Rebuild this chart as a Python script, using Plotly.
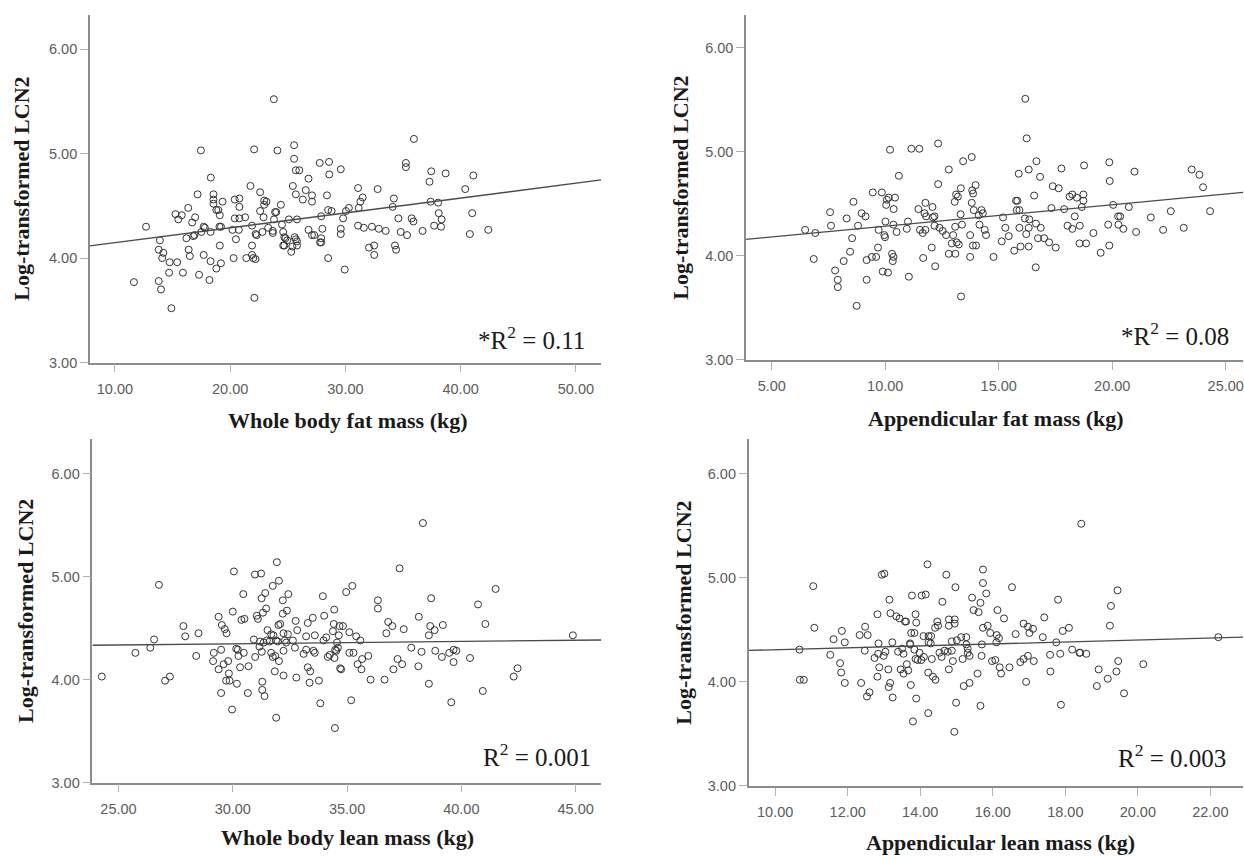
import plotly.graph_objects as go

# ---------------- data ----------------
# Panel 1: Whole body fat mass (kg) vs log-transformed LCN2
wb_fat_x = [23.79,17.46,22.08,24.10,25.55,25.55,27.77,28.58,25.70,26.00,28.60,18.32,26.80,21.76,25.44,26.56,17.17,22.60,18.55,18.55,
            18.55,19.34,20.40,20.80,25.70,26.30,27.10,27.10,22.95,23.15,22.95,24.40,28.40,16.36,15.26,15.80,15.50,16.96,16.70,18.80,
            18.97,19.10,20.80,22.60,23.90,24.00,22.90,25.10,25.80,27.90,20.40,20.80,21.30,19.07,19.20,17.70,17.80,20.20,20.75,21.90,
            23.30,23.80,23.70,23.70,16.90,16.80,17.50,18.30,16.20,22.30,22.20,20.50,19.10,21.90,22.80,24.60,24.70,24.80,24.95,25.60,
            25.70,25.80,24.60,24.70,25.40,25.30,25.80,26.80,27.10,27.30,27.80,27.90,28.00,27.90,28.50,13.90,13.80,14.20,14.10,14.75,
            15.40,14.70,15.90,17.30,17.70,18.20,18.30,18.80,19.20,16.40,16.50,20.30,21.40,21.90,22.00,22.20,22.10,11.65,13.80,14.00,
            14.90,12.70,24.50,35.95,35.25,35.25,29.60,37.45,37.30,38.70,41.10,40.40,31.10,32.80,31.50,31.30,31.15,34.20,34.10,37.40,
            38.05,38.10,41.00,28.80,28.50,30.30,30.05,29.80,34.60,35.75,35.90,38.35,29.60,29.60,31.10,31.60,32.30,32.90,33.50,34.80,
            35.35,36.70,37.70,38.30,40.80,42.40,32.05,32.50,32.50,34.30,34.40,29.94]
wb_fat_y = [5.52,5.03,5.04,5.03,5.08,4.95,4.91,4.92,4.84,4.84,4.80,4.77,4.76,4.69,4.69,4.65,4.61,4.63,4.61,4.56,
            4.52,4.54,4.56,4.57,4.61,4.56,4.60,4.54,4.55,4.54,4.51,4.51,4.60,4.48,4.42,4.41,4.37,4.39,4.34,4.46,
            4.46,4.41,4.49,4.45,4.44,4.44,4.39,4.37,4.37,4.40,4.38,4.38,4.39,4.30,4.30,4.30,4.29,4.27,4.27,4.31,
            4.29,4.37,4.26,4.24,4.22,4.21,4.25,4.25,4.19,4.22,4.23,4.18,4.12,4.12,4.25,4.25,4.20,4.19,4.17,4.20,
            4.18,4.16,4.12,4.12,4.11,4.06,4.12,4.27,4.22,4.22,4.15,4.15,4.28,4.19,4.00,4.17,4.08,4.05,4.00,3.96,
            3.96,3.86,3.86,3.84,4.03,3.79,3.97,3.90,3.95,4.08,4.02,4.00,4.00,4.03,4.00,3.99,3.62,3.77,3.78,3.70,
            3.52,4.30,4.32,5.14,4.91,4.87,4.85,4.83,4.73,4.81,4.79,4.66,4.67,4.66,4.58,4.54,4.48,4.57,4.49,4.54,
            4.53,4.43,4.43,4.45,4.46,4.48,4.45,4.38,4.38,4.38,4.35,4.37,4.28,4.23,4.31,4.29,4.30,4.28,4.26,4.25,
            4.22,4.26,4.31,4.30,4.23,4.27,4.10,4.12,4.03,4.12,4.08,3.89]

# Panel 2: Appendicular fat mass (kg)
ap_fat_x = [6.47,6.92,6.85,7.57,7.61,7.79,7.91,7.91,8.60,8.30,8.54,8.45,8.17,8.80,8.74,8.96,9.13,9.18,9.41,9.60,
            9.18,9.45,9.68,9.85,9.71,9.89,10.01,9.96,9.99,10.12,10.21,10.07,10.15,10.04,10.43,10.37,10.36,10.50,10.30,10.33,
            10.36,10.60,10.95,11.00,11.04,11.15,11.50,11.46,11.77,11.73,11.80,11.53,11.65,11.77,12.08,12.17,12.10,12.05,11.67,12.20,
            12.33,12.33,12.17,12.39,12.53,12.68,12.80,12.80,16.17,16.23,13.43,13.81,16.66,15.88,16.32,16.82,17.76,18.76,19.87,19.89,
            20.98,23.50,23.84,24.00,24.31,13.33,13.12,13.20,13.06,13.83,13.87,13.98,13.81,13.90,14.12,14.24,14.30,13.32,15.19,15.76,
            15.82,15.79,15.91,16.56,16.15,16.35,16.64,16.85,16.21,15.91,16.32,15.29,15.44,15.13,15.68,15.96,16.32,16.73,17.00,17.22,
            17.51,16.63,17.32,17.38,17.64,17.88,18.03,18.24,18.12,18.24,18.44,18.73,18.73,18.66,18.35,18.57,18.56,18.85,19.17,19.49,
            19.82,19.87,20.04,20.26,20.35,20.27,20.49,20.73,21.05,21.70,22.24,22.58,23.15,14.77,13.74,13.86,13.74,14.00,14.44,14.38,
            14.15,13.38,13.09,12.93,13.15,13.24,13.08,12.99,13.34]
ap_fat_y = [4.25,4.22,3.97,4.42,4.29,3.86,3.77,3.70,4.52,4.36,4.17,4.04,3.95,4.29,3.52,4.41,4.38,3.96,3.99,3.99,
            3.77,4.61,4.08,4.61,4.25,3.85,4.33,4.20,4.18,3.84,5.02,4.54,4.56,4.49,4.56,4.45,4.30,4.23,4.02,3.95,
            3.99,4.77,4.26,4.33,3.80,5.03,5.03,4.45,4.51,4.41,4.38,4.25,4.22,4.25,4.47,4.38,4.37,4.08,3.98,3.90,
            5.08,4.69,4.29,4.27,4.24,4.20,4.83,4.02,5.51,5.13,4.91,4.95,4.91,4.79,4.83,4.76,4.84,4.87,4.90,4.72,
            4.81,4.83,4.78,4.66,4.43,4.65,4.59,4.57,4.52,4.63,4.60,4.68,4.51,4.44,4.39,4.44,4.41,4.40,4.37,4.53,
            4.53,4.44,4.44,4.58,4.36,4.35,4.31,4.27,4.21,4.27,4.27,4.27,4.19,4.14,4.05,4.09,4.09,4.17,4.17,4.13,
            4.08,3.89,4.46,4.67,4.65,4.45,4.29,4.26,4.57,4.59,4.56,4.59,4.53,4.47,4.38,4.29,4.12,4.12,4.22,4.03,
            4.30,4.10,4.49,4.38,4.38,4.30,4.26,4.47,4.23,4.37,4.25,4.43,4.27,3.99,3.99,4.10,4.20,4.10,4.20,4.25,
            4.30,4.30,4.02,4.12,4.13,4.11,4.28,4.20,3.61]

# Panel 3: Whole body lean mass (kg)
wb_lean_x = [24.27,25.74,26.39,26.56,26.77,27.04,27.25,27.84,27.92,28.50,28.40,29.38,29.52,29.65,29.73,29.49,29.17,29.14,29.38,29.60,
             29.80,29.83,29.71,29.86,29.49,29.97,30.00,30.05,30.15,30.22,30.18,30.32,30.25,30.48,30.38,30.51,30.46,30.69,30.66,30.97,
             31.24,30.92,30.98,31.05,31.10,31.26,31.42,31.32,31.46,31.20,31.27,31.17,31.35,31.29,31.29,31.39,31.52,31.68,31.78,31.49,
             31.61,31.68,31.75,31.86,32.02,31.84,31.75,32.02,31.93,32.19,32.43,32.19,32.37,32.08,32.00,32.22,32.41,32.28,32.34,31.90,
             31.97,32.22,32.22,31.90,32.63,32.72,32.82,32.75,32.78,33.10,33.21,33.21,33.28,33.50,33.59,33.53,33.59,33.28,33.39,33.36,
             33.77,33.83,33.94,34.00,33.97,34.09,34.16,38.32,37.30,34.96,35.23,36.35,36.35,38.68,41.50,40.73,41.05,38.14,34.44,34.42,
             34.67,34.82,34.38,34.64,35.10,35.40,35.58,36.80,36.98,36.72,37.48,38.64,38.83,38.58,39.19,34.56,34.60,34.53,34.24,34.45,
             34.48,35.10,35.28,35.93,35.66,35.46,35.63,34.70,34.74,37.81,38.26,37.21,37.41,37.03,38.12,38.86,39.15,39.47,39.66,39.78,
             39.66,40.38,36.03,36.64,38.58,42.29,42.46,40.94,39.56,35.18,34.47,44.88]
wb_lean_y = [4.03,4.26,4.31,4.39,4.92,3.99,4.03,4.52,4.42,4.45,4.23,4.61,4.53,4.49,4.45,4.29,4.26,4.18,4.10,4.15,
             4.18,4.06,3.99,3.99,3.87,3.71,4.66,5.05,4.30,4.29,3.96,4.12,4.23,4.26,4.58,4.59,4.83,4.13,3.87,5.02,
             5.03,4.39,4.22,4.62,4.59,4.79,4.84,4.65,4.69,4.37,4.27,4.32,4.36,3.98,3.90,3.84,4.48,4.44,4.43,4.38,
             4.37,4.26,4.22,4.23,4.18,4.08,4.91,4.96,5.14,4.77,4.83,4.64,4.67,4.54,4.53,4.45,4.44,4.38,4.36,4.38,
             4.37,4.28,4.04,3.63,4.38,4.31,4.48,4.57,4.02,4.25,4.29,4.42,4.55,4.60,4.43,4.28,4.26,4.12,4.08,3.97,
             3.99,3.77,4.81,4.62,4.38,4.41,4.22,5.52,5.08,4.85,4.91,4.77,4.69,4.79,4.88,4.73,4.54,4.61,4.68,4.54,
             4.52,4.52,4.47,4.43,4.46,4.42,4.38,4.56,4.52,4.45,4.49,4.52,4.48,4.43,4.53,4.36,4.31,4.28,4.24,4.21,
             4.29,4.26,4.26,4.23,4.20,4.15,4.10,4.11,4.10,4.31,4.27,4.20,4.15,4.10,4.13,4.28,4.22,4.26,4.29,4.28,
             4.17,4.21,4.00,4.00,3.96,4.03,4.11,3.89,3.78,3.80,3.53,4.43]

# Panel 4: Appendicular lean mass (kg)
ap_lean_x = [10.67,10.68,10.79,11.05,11.08,11.52,11.61,11.84,11.92,11.79,11.82,11.92,12.33,12.48,12.55,12.47,12.37,12.60,12.53,12.74,
             12.84,12.85,12.82,12.82,12.87,12.94,13.01,12.99,13.04,13.15,13.18,13.23,13.12,13.13,13.17,13.24,13.34,13.43,13.39,13.50,
             13.58,13.61,13.54,13.46,13.54,13.63,13.67,13.72,13.72,13.77,13.75,13.84,13.87,13.89,13.74,13.87,13.93,13.89,13.80,13.84,
             13.98,14.03,14.10,14.04,14.15,14.09,14.20,14.23,14.30,14.23,14.29,14.22,14.32,14.22,14.35,14.42,14.41,14.47,14.49,14.53,
             14.59,14.61,14.72,14.67,14.76,14.79,14.79,14.79,18.44,15.73,15.73,15.82,14.97,16.53,15.43,15.47,15.61,15.66,16.13,16.31,
             17.42,17.80,19.26,19.44,19.23,14.95,14.95,15.73,15.86,15.93,16.11,16.17,16.10,16.63,16.85,16.97,17.11,17.01,17.38,17.93,
             18.10,17.75,14.87,15.01,15.13,15.27,15.27,15.31,15.31,15.36,15.70,15.69,15.98,16.07,16.19,16.23,16.46,16.76,16.85,16.97,
             17.13,16.92,17.58,17.86,17.59,18.19,18.39,18.41,18.58,18.92,18.87,19.17,19.46,19.41,19.62,20.15,17.88,15.66,14.99,14.94,
             15.36,15.20,15.58,14.90,15.17,14.87,22.22]
ap_lean_y = [4.31,4.02,4.02,4.92,4.52,4.26,4.41,4.49,4.38,4.18,4.09,3.99,4.45,4.53,4.45,4.30,3.99,3.90,3.86,4.23,
             4.27,4.37,4.65,4.05,4.14,5.03,5.04,4.25,4.29,4.79,4.66,4.38,4.12,3.95,3.99,3.85,4.63,4.61,4.29,4.32,
             4.58,4.58,4.27,4.12,4.08,4.17,4.11,4.37,4.36,4.83,4.47,4.47,4.65,4.57,3.97,4.22,4.21,3.84,3.62,4.31,
             4.28,4.21,4.24,4.83,4.84,4.44,5.13,4.44,4.44,4.38,4.37,4.09,4.22,3.70,4.05,4.02,4.52,4.58,4.54,4.28,
             4.24,4.77,5.03,4.30,4.29,4.60,4.54,4.12,5.52,5.08,4.95,4.85,4.91,4.91,4.81,4.69,4.67,4.76,4.69,4.61,
             4.62,4.79,4.73,4.88,4.54,4.60,4.56,4.52,4.54,4.47,4.45,4.42,4.38,4.46,4.56,4.53,4.51,4.47,4.43,4.49,
             4.52,4.38,4.39,4.40,4.43,4.43,4.36,4.32,4.28,4.25,4.36,4.25,4.20,4.21,4.14,4.08,4.14,4.19,4.22,4.25,
             4.20,4.00,4.26,4.27,4.10,4.31,4.28,4.28,4.27,4.12,3.96,4.03,4.20,4.10,3.89,4.17,3.78,3.77,3.80,3.52,
             3.99,3.96,4.08,4.20,4.22,4.30,4.43]

# Fitted regression lines (intercept, slope)
fit_intercepts = [4.005, 4.080, 4.279, 4.216]
fit_slopes = [0.01422, 0.02056, 0.00229, 0.00932]
r2_labels = ["*R<sup>2</sup> = 0.11", "*R<sup>2</sup> = 0.08", "R<sup>2</sup> = 0.001", "R<sup>2</sup> = 0.003"]
x_titles = ["Whole body fat mass (kg)", "Appendicular fat mass (kg)",
            "Whole body lean mass (kg)", "Appendicular lean mass (kg)"]
y_title = "Log-transformed LCN2"
x_ticks = [[10, 20, 30, 40, 50], [5, 10, 15, 20, 25],
           [25, 30, 35, 40, 45], [10, 12, 14, 16, 18, 20, 22]]
y_ticks = [3, 4, 5, 6]

# ---------------- layout geometry (pixels) ----------------
W, H = 1244, 860
panels = [
    # x-axis left/right px, y-axis top/bottom px, x range, y range
    dict(l=90.0, r=601.7, t=15.0, b=366.0, xr=[7.83, 52.2], yr=[3, 6.327]),
    dict(l=746.7, r=1244.0, t=15.0, b=363.3, xr=[3.87, 25.76], yr=[3, 6.317]),
    dict(l=92.5, r=601.7, t=443.3, b=790.0, xr=[23.86, 46.12], yr=[3, 6.334]),
    dict(l=749.3, r=1244.0, t=443.3, b=793.3, xr=[9.27, 22.9], yr=[3, 6.333]),
]
ytitle_pos = [(22, 190.5), (681, 189), (26, 616.7), (684, 618)]
xtitle_pos = [(348, 424), (997, 422), (347.5, 845), (1001, 850)]
r2_pos = [(587, 341), (1232, 337), (593, 762), (1229, 763)]

series = [(wb_fat_x, wb_fat_y), (ap_fat_x, ap_fat_y), (wb_lean_x, wb_lean_y), (ap_lean_x, ap_lean_y)]

fig = go.Figure()
layout = dict(width=W, height=H, margin=dict(l=0, r=0, t=0, b=0),
              paper_bgcolor="white", plot_bgcolor="white", showlegend=False)
annotations = []
tick_font = dict(family="Liberation Sans, Arial, sans-serif", size=14.5, color="#5c5c5c")
serif_bold = dict(family="Liberation Serif, Times New Roman, serif", size=22, color="#1a1a1a")

for i, p in enumerate(panels):
    n = "" if i == 0 else str(i + 1)
    xa, ya = "x" + n, "y" + n
    xs, ys = series[i]
    fig.add_trace(go.Scatter(x=xs, y=ys, mode="markers", xaxis=xa, yaxis=ya,
                             marker=dict(symbol="circle-open", size=7, color="#333333",
                                         line=dict(width=1, color="#333333")),
                             hoverinfo="skip"))
    lx = p["xr"]
    ly = [fit_intercepts[i] + fit_slopes[i] * v for v in lx]
    fig.add_trace(go.Scatter(x=lx, y=ly, mode="lines", xaxis=xa, yaxis=ya,
                             line=dict(color="#4a4a4a", width=1.3), hoverinfo="skip"))
    layout["xaxis" + n] = dict(domain=[p["l"] / W, p["r"] / W], range=p["xr"], anchor=ya,
                               showline=True, linecolor="#8c8c8c", linewidth=1.6,
                               showgrid=False, zeroline=False, ticks="outside", ticklen=8,
                               tickcolor="#b0b0b0", tickwidth=1, tickvals=x_ticks[i],
                               tickformat=".2f", tickfont=tick_font, ticklabelstandoff=4,
                               ticklabeloverflow="allow")
    layout["yaxis" + n] = dict(domain=[1 - p["b"] / H, 1 - p["t"] / H], range=p["yr"], anchor=xa,
                               showline=True, linecolor="#8c8c8c", linewidth=1.6,
                               showgrid=False, zeroline=False, ticks="outside", ticklen=8,
                               tickcolor="#b0b0b0", tickwidth=1, tickvals=y_ticks,
                               tickformat=".2f", tickfont=tick_font)
    yx, yy = ytitle_pos[i]
    annotations.append(dict(text="<b>" + y_title + "</b>", x=yx / W, y=1 - yy / H, xref="paper", yref="paper",
                            showarrow=False, textangle=-90, xanchor="center", yanchor="middle", font=serif_bold))
    tx, ty = xtitle_pos[i]
    annotations.append(dict(text="<b>" + x_titles[i] + "</b>", x=tx / W, y=1 - ty / H, xref="paper", yref="paper",
                            showarrow=False, xanchor="center", yanchor="middle", font=serif_bold))
    rx, ry = r2_pos[i]
    annotations.append(dict(text=r2_labels[i], x=rx / W, y=1 - ry / H, xref="paper", yref="paper",
                            showarrow=False, xanchor="right", yanchor="middle",
                            font=dict(family="Liberation Serif, Times New Roman, serif", size=25, color="#1a1a1a")))

layout["annotations"] = annotations
fig.update_layout(**layout)
fig.write_html("out.html", config=dict(displayModeBar=False),
               post_script="document.body.style.margin='0';document.body.style.overflow='hidden';")
